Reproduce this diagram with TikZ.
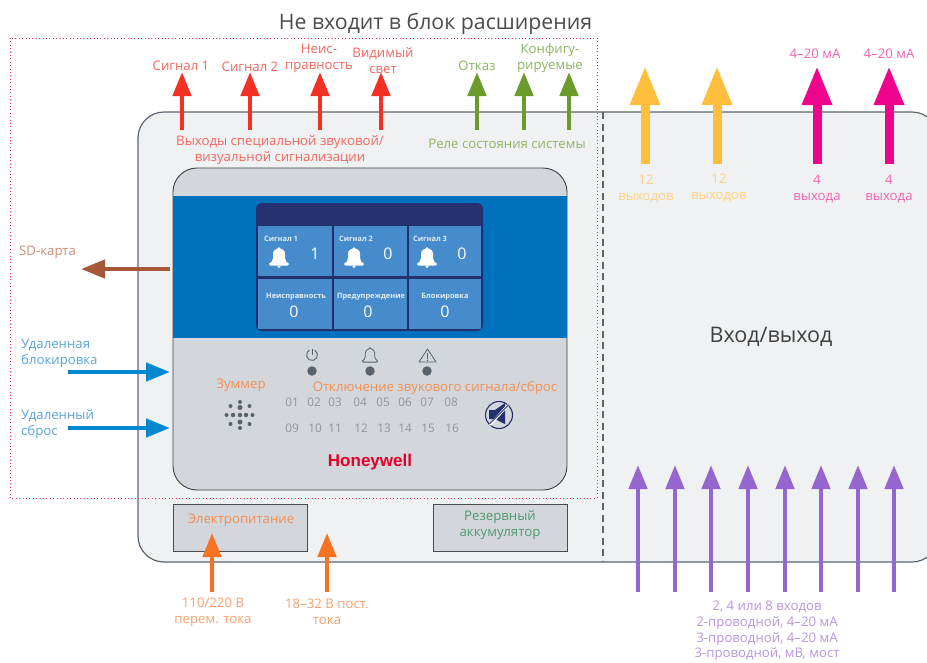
\documentclass[tikz,border=0pt]{standalone}
\usepackage{fontspec}
\setmainfont{Open Sans}
\newfontfamily\logofont{Liberation Sans}
\usetikzlibrary{arrows.meta}
\definecolor{casefill}{HTML}{F0F1F3}
\definecolor{caseline}{HTML}{5C6670}
\definecolor{panelgrey}{HTML}{D3D6DA}
\definecolor{bandblue}{HTML}{0071BC}
\definecolor{screennavy}{HTML}{25316F}
\definecolor{cellblue}{HTML}{468BCB}
\definecolor{ledgrey}{HTML}{59636B}
\definecolor{alarmred}{HTML}{F42F23}
\definecolor{alarmtext}{HTML}{F4675F}
\definecolor{framered}{HTML}{E8344E}
\definecolor{relaygreen}{HTML}{6A9B2B}
\definecolor{relaytext}{HTML}{8DB563}
\definecolor{relayout}{HTML}{FFBE3C}
\definecolor{relayouttext}{HTML}{FFD27F}
\definecolor{loopmag}{HTML}{EE038C}
\definecolor{looptext}{HTML}{F065B0}
\definecolor{inpurple}{HTML}{9566CF}
\definecolor{intext}{HTML}{B896E0}
\definecolor{sdbrown}{HTML}{A8583A}
\definecolor{sdtext}{HTML}{C98F78}
\definecolor{remoteblue}{HTML}{0089D0}
\definecolor{remotetext}{HTML}{5BA4DA}
\definecolor{powerorange}{HTML}{F77222}
\definecolor{powertext}{HTML}{F58F52}
\definecolor{batterygreen}{HTML}{4F9A72}
\definecolor{logored}{HTML}{E4002B}
\tikzset{
  lbl/.style={inner sep=0pt,align=center,yshift=-1pt,font=\fontsize{13.2}{16}\selectfont},
  celltitle/.style={inner sep=0pt,text=white!85!cellblue,font=\bfseries\fontsize{7.4}{8}\selectfont},
  cellvalue/.style={inner sep=0pt,text=white,font=\fontsize{16}{17}\selectfont},
  ledno/.style={inner sep=0pt,text=black!42,font=\fontsize{11.8}{12}\selectfont},
  bigarrow/.style={line width=9pt,-{Triangle[length=39pt,width=28pt]}},
  midarrow/.style={line width=4.6pt,-{Triangle[length=24pt,width=18pt]}},
  cell/.style={draw=none,fill=cellblue,inner sep=0pt,minimum width=#1,minimum height=50pt},
  modulebox/.style={draw=black!70,line width=0.9pt,fill=panelgrey,inner sep=0pt,minimum width=134pt,minimum height=47pt},
}
\begin{document}
\begin{tikzpicture}[x=1pt,y=-1pt]
  \newcommand{\bellpath}{(-7.5,5) .. controls (-5.5,3) and (-6,0) .. (-6,-3) .. controls (-6,-6.5) and (-3.5,-8) .. (-1.5,-8.5) .. controls (-1.5,-10.5) and (1.5,-10.5) .. (1.5,-8.5) .. controls (3.5,-8) and (6,-6.5) .. (6,-3) .. controls (6,0) and (5.5,3) .. (7.5,5) .. controls (10.5,6) and (10.5,8.5) .. (8.5,8.5) -- (-8.5,8.5) .. controls (-10.5,8.5) and (-10.5,6) .. (-7.5,5) -- cycle}
  \clip (0,0) rectangle (927,662);
  \fill[white] (0,0) rectangle (927,662);
  % Case and inner panel
  \node[draw=caseline,line width=1.2pt,fill=casefill,rounded corners=26pt,inner sep=0pt,minimum width=800pt,minimum height=450pt] (Case) at (538,337) {};
  \draw[caseline,line width=2pt,dash pattern=on 7pt off 4.5pt] (603,112) -- (603,562);
  \node[draw=black!75,line width=0.9pt,fill=panelgrey,rounded corners=24pt,inner sep=0pt,minimum width=394pt,minimum height=322pt] (Panel) at (370,329) {};
  \node[fill=bandblue,inner sep=0pt,minimum width=394.8pt,minimum height=142pt] (Band) at (370,267) {};
  % Screen
  \node[fill=screennavy,rounded corners=6pt,inner sep=0pt,minimum width=227pt,minimum height=128pt] (Screen) at (369.5,267) {};
  \foreach \x/\w [count=\c] in {295/74,370.5/73,445/72} {
    \node[cell=\w pt] (CellA\c) at (\x,251) {};
    \node[cell=\w pt] (CellB\c) at (\x,304) {};
  }
  \foreach \x/\t/\n/\v/\b in {281/Сигнал 1/315/1/279,356/Сигнал 2/388/0/354,430/Сигнал 3/462/0/427} {
    \node[celltitle] (T\n) at (\x,238.5) {\t};
    \node[cellvalue] (V\n) at (\n,254) {\v};
    \fill[white,shift={(\b,257)}] \bellpath;
    \fill[white] (\b,266.5) circle (1.6pt);
  }
  \foreach \x/\t/\n in {296/Неисправность/294,371/Предупреждение/368,445/Блокировка/445} {
    \node[celltitle] (B\n) at (\x,297) {\t};
    \node[cellvalue] (W\n) at (\n,312) {0};
  }
  % Indicators
  \foreach \x in {312,370,427} {\node[circle,fill=ledgrey,inner sep=0pt,minimum size=9.5pt] (Led\x) at (\x,371) {};}
  \draw[ledgrey,line width=0.9pt] (314.75,350.24) arc[start angle=60,end angle=-240,radius=5.5pt];
  \draw[ledgrey,line width=0.9pt] (312,348.5) -- (312,355);
  \draw[ledgrey,line width=0.8pt,shift={(370,355.5)},scale=0.78] \bellpath;
  \draw[ledgrey,line width=0.8pt,line join=round] (427.5,349) -- (436,362) -- (419,362) -- cycle;
  \draw[ledgrey,line width=1pt] (427.5,353) -- (427.5,358.5);
  \fill[ledgrey] (427.5,360.3) circle (0.7pt);
  % Buzzer
  \foreach \dx/\dy/\r in {-13.5/0/2,-7/0/2.2,0/0/2.2,6/0/2.2,12.5/0/2,0/-13/2,0/-7.5/2.5,0/7/2.5,0/13/2,-9.5/-9/2,9.5/-9/2,-9.5/9/2,9.5/9/2} {
    \fill[ledgrey] (240+\dx,415+\dy) circle (\r pt);
  }
  % LED numbers
  \foreach \x/\t in {292/01,314/02,335/03,360/04,383/05,405/06,427/07,451/08} {\node[ledno] (L\t) at (\x,402) {\t};}
  \foreach \x/\t in {292/09,315/10,335/11,361/12,384/13,405/14,428/15,452/16} {\node[ledno] (L\t) at (\x,428) {\t};}
  % Mute button
  \node[circle,draw=screennavy,line width=1.1pt,inner sep=0pt,minimum size=27pt] (Mute) at (499,415) {};
  \fill[screennavy] (489,410) -- (495,410) -- (505,403) -- (505,424) -- (495,419) -- (489,419) -- cycle;
  \draw[white,line width=2.4pt] (490,425) -- (508,405);
  \draw[screennavy,line width=0.9pt] (489.5,424) -- (508.5,405);
  \node[inner sep=0pt,text=logored,font=\logofont\bfseries\fontsize{17}{18}\selectfont] (Logo) at (370,462) {Honeywell};
  % Modules
  \node[modulebox] (Power) at (240.5,527.5) {};
  \node[modulebox] (Battery) at (500,527.5) {};
  \node[lbl,text=powertext] (PowerT) at (241,519) {Электропитание};
  \node[lbl,text=batterygreen] (BatteryT) at (500,524.5) {Резервный\\аккумулятор};
  % Dotted frame
  \draw[framered,line width=0.9pt,dash pattern=on 1pt off 2.4pt] (10,38) rectangle (597,498);
  % Arrows
  \foreach \x/\c in {182/alarmred,250/alarmred,320/alarmred,381/alarmred,477/relaygreen,524/relaygreen,569/relaygreen} {
    \coordinate (S\x) at (\x,130); \coordinate (E\x) at (\x,72);
    \draw[midarrow,\c] (S\x) -- (E\x);
  }
  \foreach \x/\c in {645/relayout,717/relayout,817/loopmag,889/loopmag} {
    \coordinate (S\x) at (\x,164); \coordinate (E\x) at (\x,66);
    \draw[bigarrow,\c] (S\x) -- (E\x);
  }
  \foreach \x in {638,675,711,748,785,821,858,894} {
    \coordinate (S\x) at (\x,592); \coordinate (E\x) at (\x,465);
    \draw[midarrow,inpurple] (S\x) -- (E\x);
  }
  \foreach \x in {212,327} {
    \coordinate (S\x) at (\x,592); \coordinate (E\x) at (\x,533);
    \draw[midarrow,powerorange] (S\x) -- (E\x);
  }
  \foreach \y in {372,428} {
    \coordinate (S\y) at (68,\y); \coordinate (E\y) at (170,\y);
    \draw[midarrow,remoteblue] (S\y) -- (E\y);
  }
  \coordinate (S269) at (170,269); \coordinate (E269) at (81,269);
  \draw[midarrow,sdbrown] (S269) -- (E269);
  % Labels
  \node[lbl,text=black!70,font=\fontsize{21.3}{23}\selectfont] (Title) at (435.5,23) {Не входит в блок расширения};
  \node[lbl,text=black!75,font=\fontsize{21.5}{23}\selectfont] (IO) at (771,336) {Вход/выход};
  \foreach \x/\y/\t in {181/65/Сигнал 1,250/66/Сигнал 2,319/57.5/Неис-\\правность,383/59.5/Видимый\\свет,280/149.5/{Выходы специальной звуковой/\\визуальной сигнализации}} {
    \node[lbl,text=alarmtext] (A\x) at (\x,\y) {\t};
  }
  \foreach \x/\y/\t in {477/65/Отказ,550/57/Конфигу-\\рируемые,507/143/Реле состояния системы} {
    \node[lbl,text=relaytext] (R\x) at (\x,\y) {\t};
  }
  \foreach \x/\y/\t in {646/188/12\\выходов,719/187/12\\выходов} {\node[lbl,text=relayouttext] (Y\x) at (\x,\y) {\t};}
  \foreach \x/\y/\t in {815/53/4–20 мА,889/53/4–20 мА,817/188/4\\выхода,889/188/4\\выхода} {\node[lbl,text=looptext] (M\x\y) at (\x,\y) {\t};}
  \node[lbl,text=intext,font=\fontsize{13.2}{15.6}\selectfont] (Inputs) at (767,630) {2, 4 или 8 входов\\2-проводной, 4–20 мА\\3-проводной, 4–20 мА\\3-проводной, мВ, мост};
  \node[lbl,text=powertext] (Buzz) at (241,384) {Зуммер};
  \node[lbl,text=powertext] (Silence) at (435,387) {Отключение звукового сигнала/сброс};
  \node[lbl,text=powertext!85!white] (AC) at (213,611) {110/220 В\\перем. тока};
  \node[lbl,text=powertext!85!white] (DC) at (327,611) {18–32 В пост.\\тока};
  \node[lbl,text=sdtext,anchor=west] (SD) at (19,251) {SD-карта};
  \node[lbl,text=remotetext,anchor=west,align=left] (Lock) at (21,352.5) {Удаленная\\блокировка};
  \node[lbl,text=remotetext,anchor=west,align=left] (Reset) at (21,423.5) {Удаленный\\сброс};
\end{tikzpicture}
\end{document}
